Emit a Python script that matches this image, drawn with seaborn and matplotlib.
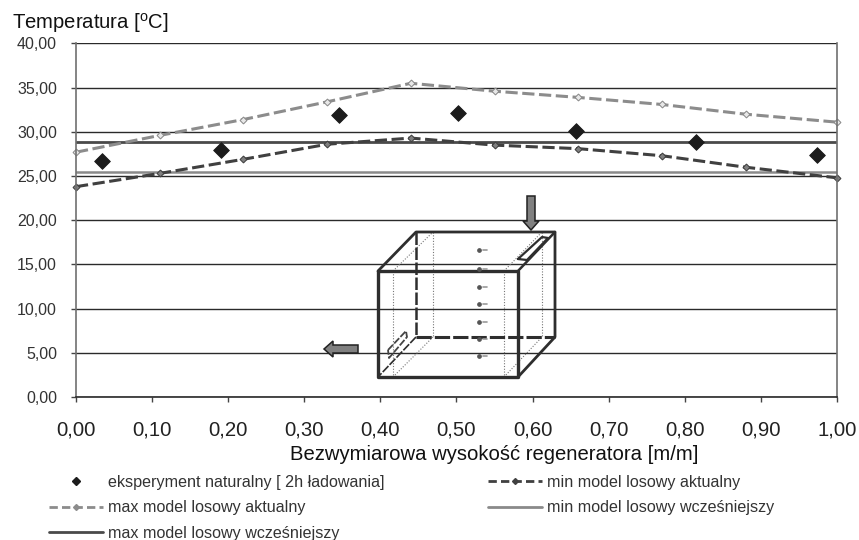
import matplotlib
matplotlib.use('Agg')
import matplotlib.pyplot as plt
import matplotlib.patches as mpatches
from matplotlib.lines import Line2D
import seaborn as sns
import pandas as pd

# values
model_x = [0.0, 0.11, 0.22, 0.33, 0.44, 0.55, 0.66, 0.77, 0.88, 1.0]
max_current = [27.7, 29.6, 31.4, 33.4, 35.5, 34.6, 33.9, 33.1, 32.0, 31.1]
min_current = [23.8, 25.3, 26.9, 28.6, 29.3, 28.5, 28.1, 27.3, 26.0, 24.8]
exp_x = [0.034, 0.19, 0.345, 0.502, 0.657, 0.815, 0.974]
exp_y = [26.7, 27.9, 31.9, 32.1, 30.1, 28.8, 27.4]
prev_x = [0.0, 1.0]
max_previous = [28.9, 28.9]
min_previous = [25.5, 25.5]
x_ticks = [0.0, 0.1, 0.2, 0.3, 0.4, 0.5, 0.6, 0.7, 0.8, 0.9, 1.0]
y_ticks = [0, 5, 10, 15, 20, 25, 30, 35, 40]

# schematic of the regenerator, in reference pixels
front_box = [(378, 271), (518, 271), (518, 377), (378, 377), (378, 271)]
back_solid = [(378, 271), (416, 232), (555, 232), (555, 337), (518, 377)]
back_corner = [(518, 271), (555, 232)]
back_dashed = [[(416, 232), (416, 337)], [(416, 337), (555, 337)], [(416, 337), (378, 377)]]
dotted = [[(393, 271), (393, 377)], [(433, 232), (433, 337)], [(393, 271), (433, 232)],
          [(393, 377), (433, 337)], [(504, 271), (504, 377)], [(542, 232), (542, 337)],
          [(504, 271), (542, 232)], [(504, 377), (542, 337)]]
probe_y = [250, 269, 287, 304, 322, 339, 356]
top_slot = [(518, 259), (542, 237), (548, 238), (527, 260), (518, 259)]
low_slot = [(388, 350), (406, 331), (407, 337), (389, 358), (388, 350)]
down_arrow = [(527, 196), (535, 196), (535, 221), (539, 221), (531, 230), (523, 221), (527, 221)]
left_arrow = [(358, 345), (358, 353), (333, 353), (333, 357), (324, 349), (333, 341), (333, 345)]


def comma(values):
    return [f'{v:.2f}'.replace('.', ',') for v in values]


sns.set_theme(style='white')
plt.rcParams['font.family'] = ['Liberation Sans', 'DejaVu Sans']
plt.rcParams['mathtext.default'] = 'regular'

fig = plt.figure(figsize=(8.59, 5.4), dpi=100)
ax = fig.add_axes([76 / 859, 1 - 397 / 540, 761 / 859, 353.5 / 540])

ax.set_axisbelow(True)
ax.grid(axis='y', color='#2a2a2a', linewidth=1.0)

dash = (0, (4, 1.5))
sns.lineplot(x=prev_x, y=max_previous, color='#4a4a4a', linewidth=2.0, ax=ax)
sns.lineplot(x=prev_x, y=min_previous, color='#8a8a8a', linewidth=1.8, ax=ax)
sns.lineplot(data=pd.DataFrame({'x': model_x, 'y': max_current}), x='x', y='y', color='#8c8c8c',
             linewidth=2.2, marker='D', markersize=3.5, markerfacecolor='#e8e8e8',
             markeredgecolor='#8c8c8c', linestyle=dash, ax=ax, clip_on=False)
sns.lineplot(data=pd.DataFrame({'x': model_x, 'y': min_current}), x='x', y='y', color='#404040',
             linewidth=2.2, marker='D', markersize=3.5, markerfacecolor='#808080',
             markeredgecolor='#404040', linestyle=dash, ax=ax, clip_on=False)
sns.scatterplot(x=exp_x, y=exp_y, marker='D', s=64, color='#1c1c1c', edgecolor='#1c1c1c', ax=ax, zorder=5)

ax.set_xlim(0, 1)
ax.set_ylim(0, 40)
ax.set_xticks(x_ticks)
ax.set_xticklabels(comma(x_ticks))
ax.set_yticks(y_ticks)
ax.set_yticklabels(comma(y_ticks))
ax.tick_params(axis='y', labelsize=11.5, labelcolor='#333333', length=3.6, width=1, color='#444444', pad=10, left=True)
ax.tick_params(axis='x', labelsize=14.7, labelcolor='#222222', length=3.6, width=1, color='#444444', pad=13, bottom=True)
ax.spines['top'].set_visible(False)
for side in ['left', 'right', 'bottom']:
    ax.spines[side].set_color('#707070')
    ax.spines[side].set_linewidth(1.2)
ax.spines['bottom'].set_color('#2a2a2a')

ax.set_xlabel('Bezwymiarowa wysokość regeneratora [m/m]', fontsize=14.6, color='#111111', va='center')
ax.xaxis.set_label_coords((494 - 76) / 761, -(455 - 397) / 353.5)
ax.set_ylabel('Temperatura [$^{o}$C]', fontsize=14.6, color='#111111', rotation=0, ha='left', va='center')
ax.yaxis.set_label_coords(-64 / 761, 1 + 20 / 353.5)

# legend, filled column by column like the original
handles = [
    Line2D([], [], linestyle='none', marker='D', markersize=4.5, color='#1c1c1c'),
    Line2D([], [], color='#8c8c8c', linewidth=2.0, linestyle=(0, (3, 1.5)), marker='D', markersize=3),
    Line2D([], [], color='#4a4a4a', linewidth=2.0),
    Line2D([], [], color='#404040', linewidth=2.0, linestyle=(0, (3, 1.5)), marker='D', markersize=3),
    Line2D([], [], color='#8a8a8a', linewidth=2.0),
]
labels = ['eksperyment naturalny [ 2h ładowania]', 'max model losowy aktualny',
          'max model losowy wcześniejszy', 'min model losowy aktualny',
          'min model losowy wcześniejszy']
fig.legend(handles, labels, ncol=2, frameon=False, fontsize=11.6, labelcolor='#333333',
           loc='upper left', bbox_to_anchor=(49 / 859, 1 - 475 / 540), borderaxespad=0, borderpad=0,
           handlelength=3.35, handletextpad=0.3, labelspacing=0.64, columnspacing=6.46)

# overlay in pixel coordinates for the schematic
over = fig.add_axes([0, 0, 1, 1])
over.set_xlim(0, 859)
over.set_ylim(540, 0)
over.axis('off')
over.patch.set_alpha(0)

for seg in dotted:
    xs, ys = zip(*seg)
    over.plot(xs, ys, color='#777777', linewidth=0.8, linestyle=(0, (1, 1.5)))
over.plot(*zip(*front_box), color='#2e2e2e', linewidth=2.4)
over.plot(*zip(*back_solid), color='#2e2e2e', linewidth=2.0)
over.plot(*zip(*back_corner), color='#2e2e2e', linewidth=1.8)
for seg, lw in zip(back_dashed, [1.8, 2.2, 1.2]):
    xs, ys = zip(*seg)
    over.plot(xs, ys, color='#2e2e2e', linewidth=lw, linestyle=(0, (5, 1)))
over.plot(*zip(*top_slot), color='#2e2e2e', linewidth=1.6)
over.plot(*zip(*low_slot), color='#444444', linewidth=1.3, linestyle=(0, (4, 1)))
for py in probe_y:
    over.plot([479], [py], marker='o', markersize=2.4, color='#555555')
    over.plot([483, 487], [py, py], color='#999999', linewidth=1.2)
for shape in [down_arrow, left_arrow]:
    over.add_patch(mpatches.Polygon(shape, closed=True, facecolor='#808080', edgecolor='#222222', linewidth=1.1))

fig.savefig('out.png', dpi=100)
